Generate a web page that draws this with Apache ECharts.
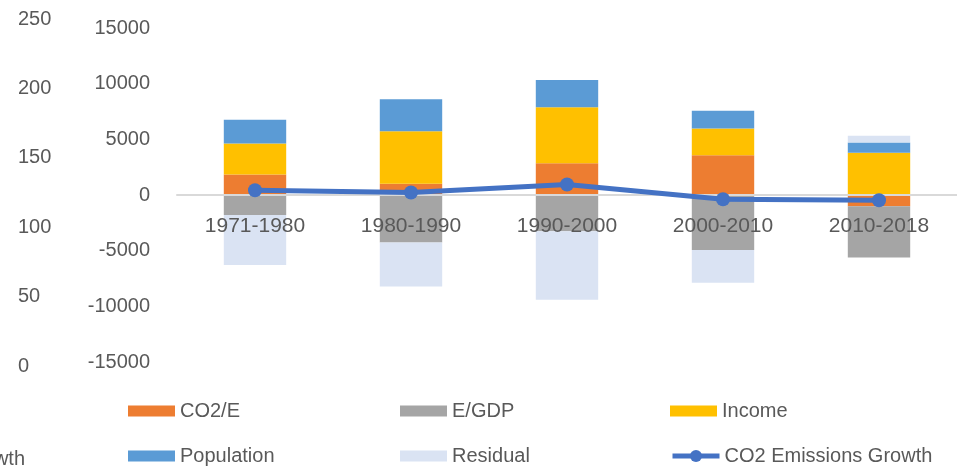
<!DOCTYPE html>
<html>
<head>
<meta charset="utf-8">
<script src="https://cdn.jsdelivr.net/npm/echarts@6/dist/echarts.min.js"></script>
<style>
  html, body { margin: 0; padding: 0; background: #fff; }
  #chart { width: 957px; height: 467px; }
</style>
</head>
<body>
<div id="chart"></div>
<script>
const periods = ['1971-1980', '1980-1990', '1990-2000', '2000-2010', '2010-2018']
const co2PerE = [1840, 1000, 2850, 3570, -1000]
const ePerGdp = [-1800, -4270, -3260, -4950, -4610]
const income = [2780, 4730, 5030, 2400, 3790]
const population = [2150, 2870, 2450, 1590, 925]
const residual = [-4490, -3950, -6140, -2930, 600]
const emissionsGrowth = [420, 220, 940, -380, -470]

const barNames = ['CO2/E', 'E/GDP', 'Income', 'Population', 'Residual']
const barData = [co2PerE, ePerGdp, income, population, residual]
const colors = ['#ED7D31', '#A5A5A5', '#FFC000', '#5B9BD5', '#DAE3F3']
const lineName = 'CO2 Emissions Growth'
const lineColor = '#4472C4'

const font = 'Liberation Sans'
const chart = echarts.init(document.getElementById('chart'))

// legend: 3 columns x 2 rows, one legend per item
const legendPos = [
  [128, 401], [400, 401], [670, 401],
  [128, 446], [400, 446], [670, 446]
]
const legendNames = barNames.concat([lineName])
const legends = legendNames.map((n, i) => ({
  data: [{ name: n, icon: i < 5 ? 'rect' : undefined }],
  left: legendPos[i][0],
  top: legendPos[i][1],
  padding: 0,
  itemWidth: 47,
  itemHeight: i < 5 ? 11 : 15,
  itemGap: 0,
  selectedMode: false,
  lineStyle: { width: 5 },
  textStyle: { color: '#595959', fontSize: 20, fontFamily: font }
}))

const plain = v => String(v)

const option = {
  animation: false,
  legend: legends,
  grid: [
    { left: 177, right: -5, top: 28, bottom: 105 },
    { left: 18, width: 10, top: 19, bottom: 101 },
    // label-only grid whose bottom edge sits on the zero line
    { left: 177, right: -5, top: 28, bottom: 272 }
  ],
  xAxis: [
    {
      type: 'category',
      data: periods,
      gridIndex: 0,
      z: 10,
      axisTick: { show: false },
      axisLine: { show: true, onZero: true, lineStyle: { color: '#D9D9D9', width: 2 } },
      axisLabel: { show: false }
    },
    { type: 'category', gridIndex: 1, show: false, data: [''] },
    {
      type: 'category',
      data: periods,
      gridIndex: 2,
      z: 10,
      axisTick: { show: false },
      axisLine: { show: false },
      axisLabel: { color: '#595959', fontSize: 21, fontFamily: font, margin: 21 }
    }
  ],
  yAxis: [
    {
      type: 'value',
      gridIndex: 0,
      min: -15000,
      max: 15000,
      interval: 5000,
      splitLine: { show: false },
      axisLine: { show: false },
      axisTick: { show: false },
      axisLabel: { color: '#595959', fontSize: 20, fontFamily: font, margin: 27, formatter: plain }
    },
    {
      type: 'value',
      gridIndex: 1,
      min: 0,
      max: 250,
      interval: 50,
      splitLine: { show: false },
      axisLine: { show: false },
      axisTick: { show: false },
      axisLabel: { color: '#595959', fontSize: 20, fontFamily: font, margin: 0, align: 'left' }
    },
    { type: 'value', gridIndex: 2, show: false }
  ],
  graphic: [
    {
      type: 'text',
      right: 932,
      top: 449,
      style: { text: lineName, fill: '#595959', font: '20px "Liberation Sans"', align: 'right' }
    }
  ],
  series: barData.map((d, i) => ({
    type: 'bar',
    name: barNames[i],
    stack: 'total',
    data: d,
    barWidth: '40%',
    itemStyle: { color: colors[i] }
  })).concat([
    {
      type: 'line',
      name: lineName,
      data: emissionsGrowth,
      z: 20,
      symbol: 'circle',
      symbolSize: 14,
      lineStyle: { color: lineColor, width: 5 },
      itemStyle: { color: lineColor }
    }
  ])
}
chart.setOption(option)
</script>
</body>
</html>
